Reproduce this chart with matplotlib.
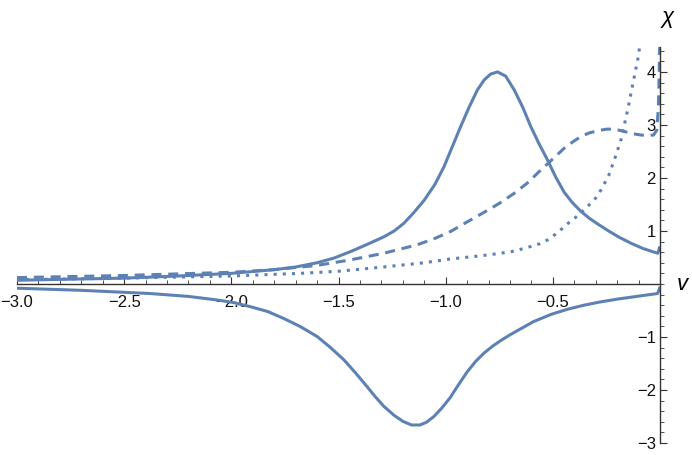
import numpy as np
import matplotlib.pyplot as plt
from matplotlib.ticker import MultipleLocator, FixedLocator

plt.rcParams['font.family'] = ['Liberation Sans', 'DejaVu Sans']

# values
x_pos = [-3.0, -2.75, -2.5, -2.25, -2.0, -1.8, -1.7, -1.6, -1.52, -1.444, -1.37, -1.288,
         -1.24, -1.195, -1.15, -1.1, -1.05, -1.008, -0.97, -0.93, -0.89, -0.852, -0.82,
         -0.79, -0.758, -0.72, -0.68, -0.64, -0.603, -0.565, -0.525, -0.487, -0.447, -0.41,
         -0.369, -0.33, -0.29, -0.244, -0.19, -0.136, -0.08, -0.027, -0.01, -0.003]
chi_pos = [0.07, 0.09, 0.11, 0.15, 0.20, 0.27, 0.32, 0.40, 0.49, 0.61, 0.74, 0.89,
           1.00, 1.145, 1.34, 1.58, 1.88, 2.21, 2.58, 2.97, 3.34, 3.66, 3.85,
           3.96, 4.0, 3.92, 3.66, 3.33, 2.97, 2.65, 2.34, 2.02, 1.73, 1.54,
           1.37, 1.24, 1.13, 1.01, 0.88, 0.77, 0.67, 0.60, 0.58, 0.68]

x_neg = [-3.0, -2.7, -2.38, -2.2, -2.07, -1.99, -1.91, -1.83, -1.756, -1.68, -1.6, -1.54,
         -1.475, -1.42, -1.366, -1.33, -1.288, -1.24, -1.2, -1.16, -1.12, -1.09, -1.055,
         -1.02, -0.98, -0.94, -0.9, -0.86, -0.82, -0.78, -0.74, -0.7, -0.665, -0.59, -0.509,
         -0.43, -0.354, -0.28, -0.198, -0.1, -0.011, -0.002]
chi_neg = [-0.08, -0.12, -0.18, -0.235, -0.30, -0.35, -0.43, -0.52, -0.65, -0.80, -0.99, -1.19,
           -1.43, -1.68, -1.94, -2.12, -2.31, -2.48, -2.59, -2.66, -2.66, -2.61, -2.50,
           -2.35, -2.15, -1.90, -1.66, -1.46, -1.30, -1.17, -1.06, -0.96, -0.88, -0.71, -0.575,
           -0.475, -0.40, -0.34, -0.285, -0.23, -0.18, -0.08]

x_dash = [-3.0, -2.5, -2.0, -1.8, -1.6, -1.45, -1.288, -1.21, -1.132, -1.05, -0.977, -0.9,
          -0.83, -0.75, -0.68, -0.62, -0.556, -0.5, -0.447, -0.4, -0.369, -0.33, -0.291,
          -0.25, -0.213, -0.18, -0.151, -0.12, -0.089, -0.06, -0.03, -0.015, -0.008,
          -0.004, -0.001]
chi_dash = [0.12, 0.16, 0.22, 0.27, 0.35, 0.45, 0.58, 0.66, 0.74, 0.86, 0.99, 1.17,
            1.33, 1.52, 1.71, 1.90, 2.15, 2.36, 2.56, 2.70, 2.78, 2.85, 2.89,
            2.92, 2.92, 2.89, 2.86, 2.83, 2.81, 2.80, 2.81, 2.90, 3.30,
            3.90, 4.60]

x_dot = [-3.0, -2.5, -2.0, -1.68, -1.5, -1.29, -1.1, -0.98, -0.84, -0.76, -0.68, -0.6, -0.56,
         -0.525, -0.48, -0.43, -0.38, -0.338, -0.3, -0.276, -0.24, -0.213, -0.182, -0.151,
         -0.12, -0.104, -0.09]
chi_dot = [0.08, 0.11, 0.15, 0.20, 0.24, 0.32, 0.40, 0.47, 0.53, 0.57, 0.62, 0.71, 0.76,
           0.83, 0.96, 1.14, 1.30, 1.46, 1.62, 1.77, 2.04, 2.34, 2.72, 3.28,
           3.91, 4.23, 4.60]

x_ticks = [-3.0, -2.5, -2.0, -1.5, -1.0, -0.5]
y_ticks = [-3, -2, -1, 1, 2, 3, 4]

col = '#5E81B5'
axcol = '#333333'

fig = plt.figure(figsize=(6.92, 4.55), dpi=100)
ax = fig.add_axes([17 / 692, 12 / 455, 643 / 692, 396 / 455])

ax.plot(x_pos, chi_pos, color=col, lw=2.2)
ax.plot(x_neg, chi_neg, color=col, lw=2.2)
ax.plot(x_dash, chi_dash, color=col, lw=2.2, ls=(0, (3.3, 2.2)))
ax.plot(x_dot, chi_dot, color=col, lw=2.2, ls=(0, (1, 2.0)))

ax.set_xlim(-3.0, 0.0)
ax.set_ylim(-3.0, 4.47)

ax.spines['left'].set_position(('data', 0))
ax.spines['bottom'].set_position(('data', 0))
ax.spines['top'].set_visible(False)
ax.spines['right'].set_visible(False)
for s in ['left', 'bottom']:
    ax.spines[s].set_color(axcol)
    ax.spines[s].set_linewidth(1.0)

ax.xaxis.set_major_locator(FixedLocator(x_ticks))
ax.xaxis.set_minor_locator(MultipleLocator(0.1))
ax.yaxis.set_major_locator(FixedLocator(y_ticks))
ax.yaxis.set_minor_locator(MultipleLocator(0.2))
ax.set_xticklabels([('%.1f' % t).replace('-', '\u2212') for t in x_ticks])
ax.set_yticklabels([str(t).replace('-', '\u2212') for t in y_ticks])

ax.tick_params(which='both', direction='in', color=axcol, labelsize=12, labelcolor='#111111')
ax.tick_params(axis='x', which='major', length=5, width=0.8, pad=8)
ax.tick_params(axis='x', which='minor', length=3, width=0.6)
ax.tick_params(axis='y', which='major', length=5, width=0.8, pad=3)
ax.tick_params(axis='y', which='minor', length=3, width=0.6)

fig.text(668 / 692, 1 - 17 / 455, 'χ', ha='center', va='center', style='italic', fontsize=16)
fig.text(682 / 692, 1 - 285 / 455, 'v', ha='center', va='center', style='italic', fontsize=16)

fig.savefig('out.png', dpi=100)
